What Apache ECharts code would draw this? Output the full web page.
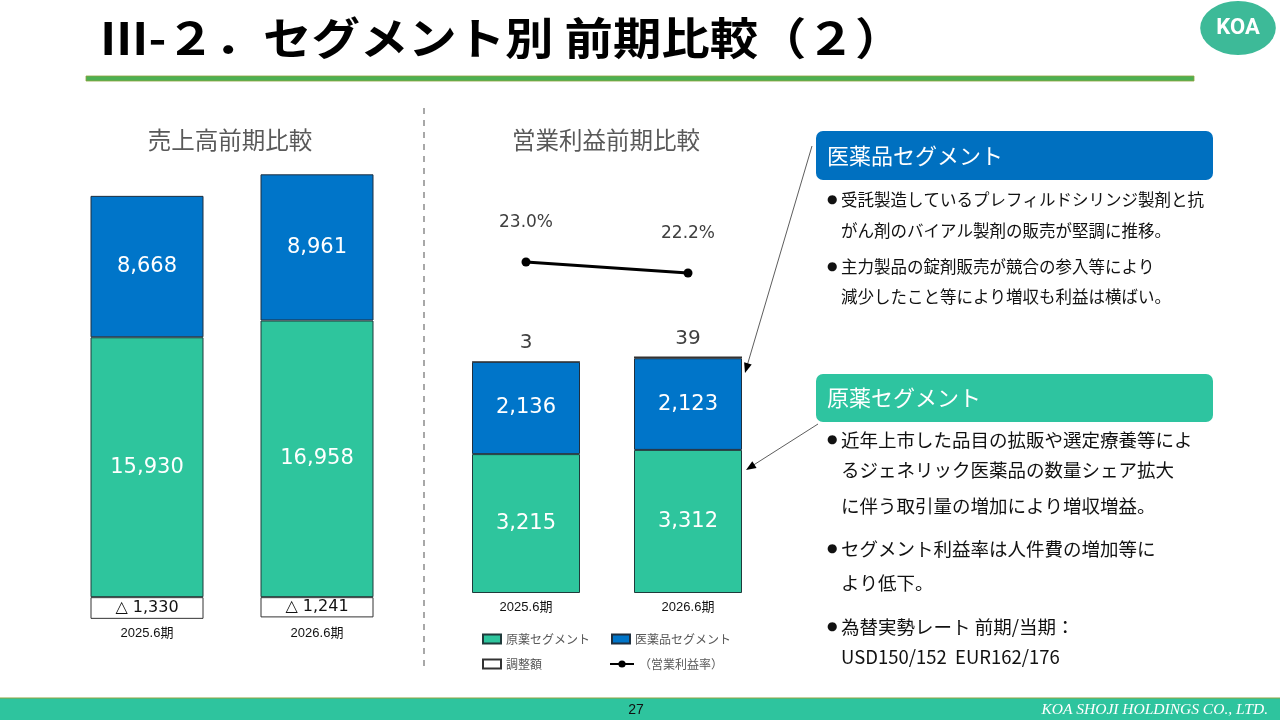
<!DOCTYPE html>
<html lang="ja">
<head>
<meta charset="UTF-8">
<title>セグメント別 前期比較（２）</title>
<script src="https://cdn.jsdelivr.net/npm/echarts@6/dist/echarts.min.js"></script>
<style>
  html, body { margin: 0; padding: 0; background: #fff; }
  #main { width: 1280px; height: 720px; }
</style>
</head>
<body>
<div id="main"></div>
<script type="text/javascript">
// 期
var periods = ['2025.6期', '2026.6期'];

// 売上高（百万円）
var salesGenyaku = [15930, 16958];
var salesIyaku = [8668, 8961];
var salesAdjust = [-1330, -1241];

// 営業利益（百万円）
var profitGenyaku = [3215, 3312];
var profitIyaku = [2136, 2123];
var profitAdjust = [3, 39];
var profitMargin = [23.0, 22.2];

var GREEN = '#2EC59D';
var BLUE = '#0075C9';
var JP = "'Noto Sans CJK JP', sans-serif";
var NUM = "'DejaVu Sans', 'Noto Sans CJK JP', sans-serif";
var NARROW = "'Liberation Sans Narrow', 'Liberation Sans', 'Noto Sans CJK JP', sans-serif";

function fmt(v) {
    return Math.abs(v).toLocaleString('en-US');
}

var myChart = echarts.init(document.getElementById('main'));

var insideLabel = {
    show: true,
    position: 'inside',
    color: '#fff',
    fontSize: 21,
    fontFamily: NUM,
    formatter: function (p) { return fmt(p.value); }
};

var legendText = { fontSize: 12, color: '#595959', fontFamily: JP };

// 箇条書きの1行
function line(x, y, text, size) {
    return { type: 'text', x: x, y: y, style: { text: text, fontSize: size, fontFamily: JP, fill: '#111', textVerticalAlign: 'middle' } };
}
function bullet(y) {
    return { type: 'text', x: 827, y: y, style: { text: '●', fontSize: 12, fontFamily: NUM, fill: '#111', textVerticalAlign: 'middle' } };
}

var option = {
    animation: false,
    grid: [
        { left: 62, width: 340, top: 173, height: 447 },   // 売上高
        { left: 445, width: 324, top: 161, height: 432 },  // 営業利益
        { left: 445, width: 324, top: 234.5, height: 68.75 } // 利益率
    ],
    xAxis: [
        {
            type: 'category', gridIndex: 0, data: periods,
            axisLine: { show: false }, axisTick: { show: false },
            axisLabel: { margin: 7, fontSize: 13, color: '#111', fontFamily: NARROW }
        },
        {
            type: 'category', gridIndex: 1, data: periods,
            axisLine: { show: false }, axisTick: { show: false },
            axisLabel: { margin: 8, fontSize: 13, color: '#111', fontFamily: NARROW }
        },
        {
            type: 'category', gridIndex: 2, data: periods, show: false
        }
    ],
    yAxis: [
        { type: 'value', gridIndex: 0, min: -1400, max: 26000, show: false },
        { type: 'value', gridIndex: 1, min: 0, max: 10000, show: false },
        { type: 'value', gridIndex: 2, min: 20, max: 25, show: false }
    ],
    legend: [
        { left: 482, top: 633, padding: 0, itemWidth: 18, itemHeight: 9, icon: 'rect', data: ['原薬セグメント'], textStyle: legendText },
        { left: 611, top: 633, padding: 0, itemWidth: 18, itemHeight: 9, icon: 'rect', data: ['医薬品セグメント'], textStyle: legendText },
        { left: 482, top: 658, padding: 0, itemWidth: 18, itemHeight: 9, icon: 'rect', data: ['調整額'], textStyle: legendText },
        { left: 609, top: 658, padding: 0, itemWidth: 24, itemHeight: 9, data: ['（営業利益率）'], textStyle: legendText }
    ],
    series: [
        // 売上高
        {
            name: '原薬セグメント', type: 'bar', stack: 'sales',
            xAxisIndex: 0, yAxisIndex: 0, barWidth: 113,
            data: salesGenyaku,
            itemStyle: { color: GREEN, borderColor: '#1f3b3b', borderWidth: 1 },
            label: insideLabel
        },
        {
            name: '医薬品セグメント', type: 'bar', stack: 'sales',
            xAxisIndex: 0, yAxisIndex: 0, barWidth: 113,
            data: salesIyaku,
            itemStyle: { color: BLUE, borderColor: '#1f2f3f', borderWidth: 1 },
            label: insideLabel
        },
        {
            name: '調整額', type: 'bar', stack: 'sales',
            xAxisIndex: 0, yAxisIndex: 0, barWidth: 113,
            data: salesAdjust,
            itemStyle: { color: '#fff', borderColor: '#333', borderWidth: 1 },
            label: {
                show: true, position: 'inside', color: '#111', fontSize: 16, fontFamily: NUM,
                formatter: function (p) { return (p.value < 0 ? '△ ' : '') + fmt(p.value); }
            }
        },
        // 営業利益
        {
            name: '原薬セグメント', type: 'bar', stack: 'profit',
            xAxisIndex: 1, yAxisIndex: 1, barWidth: 108,
            data: profitGenyaku,
            itemStyle: { color: GREEN, borderColor: '#1f3b3b', borderWidth: 1 },
            label: insideLabel
        },
        {
            name: '医薬品セグメント', type: 'bar', stack: 'profit',
            xAxisIndex: 1, yAxisIndex: 1, barWidth: 108,
            data: profitIyaku,
            itemStyle: { color: BLUE, borderColor: '#1f2f3f', borderWidth: 1 },
            label: insideLabel
        },
        {
            name: '調整額', type: 'bar', stack: 'profit',
            xAxisIndex: 1, yAxisIndex: 1, barWidth: 108,
            data: profitAdjust,
            itemStyle: { color: '#fff', borderColor: '#333', borderWidth: 1.2 },
            label: {
                show: true, position: 'top', distance: 8, color: '#404040', fontSize: 20, fontFamily: NUM,
                formatter: function (p) { return fmt(p.value); }
            }
        },
        {
            name: '（営業利益率）', type: 'line',
            xAxisIndex: 2, yAxisIndex: 2,
            data: profitMargin,
            symbol: 'circle', symbolSize: 9,
            lineStyle: { color: '#000', width: 3 },
            itemStyle: { color: '#000' },
            label: {
                show: true, position: 'top', distance: 26, color: '#404040', fontSize: 17, fontFamily: NUM,
                formatter: function (p) { return p.value.toFixed(1) + '%'; }
            }
        }
    ],
    graphic: [
        // タイトル
        {
            type: 'text', x: 100, y: 16, scaleX: 1.1,
            style: { text: 'Ⅲ-２．セグメント別 前期比較（２）', fontSize: 44, fontWeight: 'bold', fontFamily: JP, fill: '#000' }
        },
        { type: 'rect', shape: { x: 86, y: 76, width: 1108, height: 5 }, style: { fill: '#4DB052', stroke: '#8FA33E', lineWidth: 0.8 } },
        // ロゴ
        { type: 'circle', x: 1238, y: 28, scaleX: 1.4, shape: { cx: 0, cy: 0, r: 27 }, style: { fill: '#3DBA98' } },
        {
            type: 'text', x: 1238, y: 28,
            style: { text: 'KOA', fontSize: 22, fontWeight: 'bold', fontFamily: "'Liberation Sans Narrow', 'Roboto', sans-serif", fill: '#fff', textAlign: 'center', textVerticalAlign: 'middle' }
        },
        // グラフ見出し
        {
            type: 'text', x: 230, y: 140,
            style: { text: '売上高前期比較', fontSize: 23.5, fontFamily: JP, fill: '#595959', textAlign: 'center', textVerticalAlign: 'middle' }
        },
        {
            type: 'text', x: 606, y: 140,
            style: { text: '営業利益前期比較', fontSize: 23.5, fontFamily: JP, fill: '#595959', textAlign: 'center', textVerticalAlign: 'middle' }
        },
        // 区切り線
        { type: 'line', shape: { x1: 424, y1: 108, x2: 424, y2: 672 }, style: { stroke: '#8c8c8c', lineWidth: 1.5, lineDash: [6, 6] } },
        // 医薬品セグメント 説明
        { type: 'rect', shape: { x: 816, y: 131, width: 397, height: 49, r: 7 }, style: { fill: '#0070C0' } },
        {
            type: 'text', x: 827, y: 156,
            style: { text: '医薬品セグメント', fontSize: 22, fontFamily: JP, fill: '#fff', textVerticalAlign: 'middle' }
        },
        // 原薬セグメント 説明
        { type: 'rect', shape: { x: 816, y: 374, width: 397, height: 48, r: 7 }, style: { fill: '#2EC4A0' } },
        {
            type: 'text', x: 827, y: 398,
            style: { text: '原薬セグメント', fontSize: 22, fontFamily: JP, fill: '#fff', textVerticalAlign: 'middle' }
        },
        // 箇条書き
        bullet(200), line(841, 200, '受託製造しているプレフィルドシリンジ製剤と抗', 16.5),
        line(841, 231, 'がん剤のバイアル製剤の販売が堅調に推移。', 16.5),
        bullet(267), line(841, 267, '主力製品の錠剤販売が競合の参入等により', 16.5),
        line(841, 297, '減少したこと等により増収も利益は横ばい。', 16.5),

        bullet(440), line(841, 440, '近年上市した品目の拡販や選定療養等によ', 18.5),
        line(841, 470, 'るジェネリック医薬品の数量シェア拡大', 18.5),
        line(841, 506, 'に伴う取引量の増加により増収増益。', 18.5),
        bullet(549), line(841, 549, 'セグメント利益率は人件費の増加等に', 18.5),
        line(841, 583, 'より低下。', 18.5),
        bullet(627), line(841, 627, '為替実勢レート 前期/当期：', 18.5),
        line(841, 657, 'USD150/152  EUR162/176', 18.5),

        // 矢印
        { type: 'line', shape: { x1: 812, y1: 146, x2: 747, y2: 366 }, style: { stroke: '#333', lineWidth: 0.8 } },
        { type: 'polygon', shape: { points: [[745, 373], [751.7, 364.5], [744.1, 362.3]] }, style: { fill: '#000' } },
        { type: 'line', shape: { x1: 818, y1: 424, x2: 752, y2: 466 }, style: { stroke: '#333', lineWidth: 0.8 } },
        { type: 'polygon', shape: { points: [[746, 470], [756.6, 467.9], [752.3, 461.2]] }, style: { fill: '#000' } },

        // フッター
        { type: 'rect', shape: { x: 0, y: 698, width: 1280, height: 22 }, style: { fill: '#2EC49E' } },
        { type: 'line', shape: { x1: 0, y1: 698, x2: 1280, y2: 698 }, style: { stroke: '#8FA33E', lineWidth: 1 } },
        {
            type: 'text', x: 636, y: 710,
            style: { text: '27', fontSize: 14, fontFamily: NARROW, fill: '#111', textAlign: 'center', textVerticalAlign: 'middle' }
        },
        {
            type: 'text', x: 1268, y: 710,
            style: { text: 'KOA SHOJI HOLDINGS CO., LTD.', fontSize: 15.5, fontStyle: 'italic', fontFamily: "'Liberation Serif', serif", fill: '#fff', textAlign: 'right', textVerticalAlign: 'middle' }
        }
    ]
};

myChart.setOption(option);
</script>
</body>
</html>
